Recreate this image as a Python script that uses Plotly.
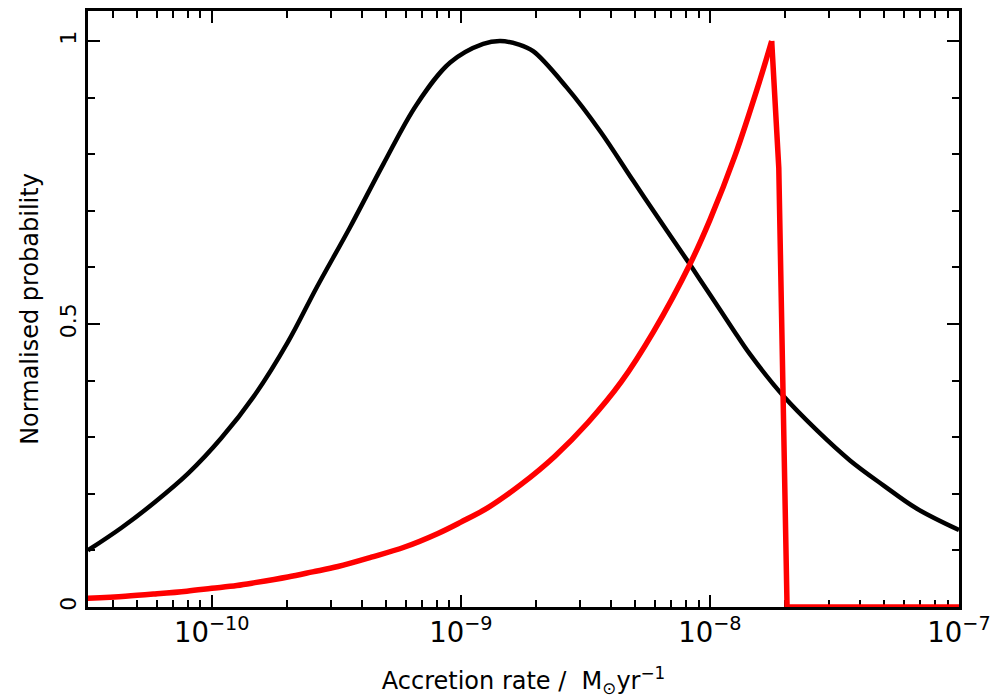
import plotly.graph_objects as go

# Accretion rate values (M_sun / yr) and normalised probabilities
black_x = [3.18e-11, 4.34e-11, 5.90e-11, 8.04e-11, 1.09e-10, 1.49e-10, 2.02e-10,
           2.64e-10, 3.59e-10, 4.89e-10, 6.65e-10, 9.06e-10, 1.23e-9, 1.44e-9,
           1.70e-9, 1.95e-9, 2.66e-9, 3.62e-9, 4.92e-9, 6.71e-9, 8.32e-9, 1.00e-8,
           1.24e-8, 1.44e-8, 1.96e-8, 2.69e-8, 3.65e-8, 4.97e-8, 6.76e-8, 1.00e-7]
black_y = [0.100, 0.140, 0.185, 0.236, 0.298, 0.375, 0.468,
           0.565, 0.671, 0.783, 0.888, 0.962, 0.995, 1.000,
           0.994, 0.982, 0.918, 0.841, 0.753, 0.665, 0.605, 0.552,
           0.490, 0.448, 0.374, 0.312, 0.259, 0.215, 0.174, 0.136]

red_rise_x = [3.18e-11, 4.50e-11, 5.90e-11, 7.94e-11, 1.00e-10, 1.26e-10, 1.49e-10,
              2.02e-10, 2.54e-10, 3.21e-10, 4.37e-10, 5.95e-10, 8.09e-10, 1.00e-9,
              1.29e-9, 1.75e-9, 2.38e-9, 3.24e-9, 4.41e-9, 5.93e-9, 8.32e-9,
              1.00e-8, 1.26e-8, 1.58e-8, 1.77e-8]
red_rise_y = [0.0153, 0.019, 0.023, 0.028, 0.033, 0.038, 0.043,
              0.053, 0.062, 0.0715, 0.088, 0.106, 0.130, 0.150,
              0.176, 0.217, 0.266, 0.326, 0.398, 0.486, 0.606,
              0.684, 0.797, 0.928, 1.000]
red_drop_x = [1.77e-8, 1.89e-8, 2.04e-8, 1.00e-7]
red_drop_y = [1.000, 0.776, 0.0, 0.0]

FONT = "DejaVu Sans"

fig = go.Figure()
fig.add_trace(go.Scatter(x=black_x, y=black_y, mode="lines",
                         line=dict(color="black", width=4.5, shape="spline", smoothing=1.0),
                         showlegend=False))
fig.add_trace(go.Scatter(x=red_rise_x, y=red_rise_y, mode="lines",
                         line=dict(color="#ff0000", width=5.5, shape="spline", smoothing=1.0),
                         showlegend=False))
fig.add_trace(go.Scatter(x=red_drop_x, y=red_drop_y, mode="lines",
                         line=dict(color="#ff0000", width=5.5),
                         showlegend=False))

fig.update_layout(
    width=994, height=700,
    margin=dict(l=88, r=35, t=11, b=93),
    paper_bgcolor="white", plot_bgcolor="white",
    font=dict(family=FONT, size=22, color="black"),
    xaxis=dict(
        type="log", range=[-10.497, -7.0], dtick=1, automargin=False,
        exponentformat="power", showexponent="all",
        showgrid=False, zeroline=False,
        showline=True, linecolor="black", linewidth=2.5, mirror="allticks",
        ticks="inside", ticklen=12, tickwidth=2, tickcolor="black",
        minor=dict(ticks="inside", ticklen=7, tickwidth=2, tickcolor="black", dtick="D1", showgrid=False),
        tickfont=dict(family=FONT, size=22),
        title=dict(text="Accretion rate /  M<sub>⊙</sub>yr<sup>−1</sup>",
                   font=dict(family=FONT, size=24), standoff=26),
        layer="below traces",
    ),
    yaxis=dict(
        range=[0, 1.053], tickvals=[0, 0.5, 1], ticktext=["0", "0.5", "1"], automargin=False,
        showgrid=False, zeroline=False,
        showline=True, linecolor="black", linewidth=2.5, mirror="allticks",
        ticks="inside", ticklen=12, tickwidth=2, tickcolor="black",
        minor=dict(ticks="inside", ticklen=7, tickwidth=2, tickcolor="black", dtick=0.1, showgrid=False),
        tickangle=-90,
        tickfont=dict(family=FONT, size=22),
        title=dict(text="Normalised probability", font=dict(family=FONT, size=24), standoff=12),
        layer="below traces",
    ),
)

fig.write_html("out.html")
